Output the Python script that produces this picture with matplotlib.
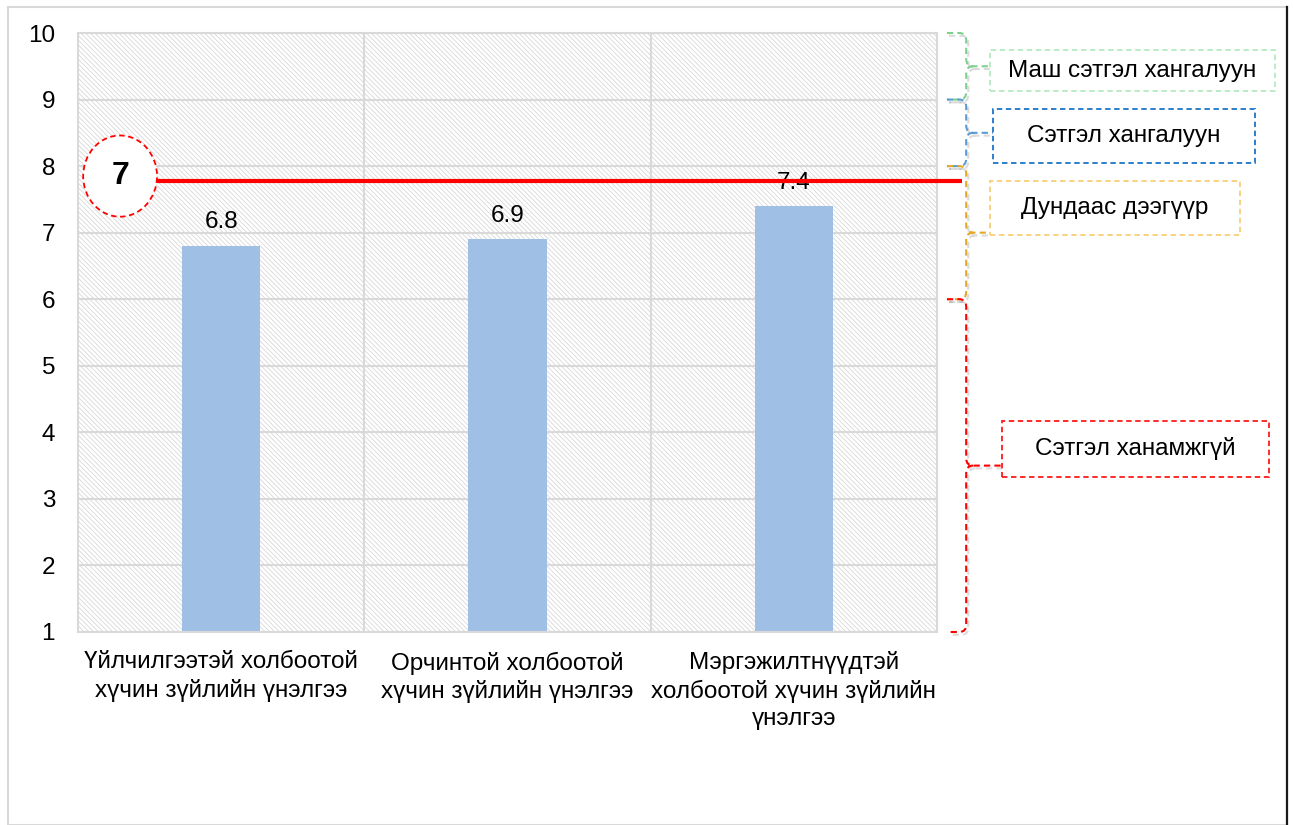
import matplotlib
matplotlib.use("Agg")
import matplotlib.pyplot as plt
import matplotlib.patheffects as pe
from matplotlib.patches import Rectangle, Ellipse, PathPatch
from matplotlib.path import Path
from matplotlib.lines import Line2D
from matplotlib.transforms import blended_transform_factory

plt.rcParams['font.family'] = ['Liberation Sans', 'DejaVu Sans']
plt.rcParams['hatch.linewidth'] = 0.6

categories = ['Үйлчилгээтэй холбоотой\nхүчин зүйлийн үнэлгээ',
              'Орчинтой холбоотой\nхүчин зүйлийн үнэлгээ',
              'Мэргэжилтнүүдтэй\nхолбоотой хүчин зүйлийн\nүнэлгээ']
scores = [6.8, 6.9, 7.4]
target = 7.77
target_label = '7'

# satisfaction bands: label, lower bound, upper bound
band_names = ['Маш сэтгэл хангалуун', 'Сэтгэл хангалуун',
              'Дундаас дээгүүр', 'Сэтгэл ханамжгүй']
band_lo = [9, 8, 6, 1]
band_hi = [10, 9, 8, 6]
band_brace = ['#7ED08E', '#5B9BD5', '#E3A92A', '#FF0000']
band_box = ['#B5EAC2', '#1C74C8', '#F8CF7A', '#FF1A1A']

FS = 17.5
W, H = 1293, 825
fig = plt.figure(figsize=(W / 100, H / 100), dpi=100)


def px(x, y):
    return x / W, 1 - y / H


ax = fig.add_axes([78 / W, (H - 632) / H, (937 - 78) / W, (632 - 33) / H])
ax.set_xlim(-0.5, 2.5)
ax.set_ylim(1, 10)

# hatched plot background
bg = Rectangle((0, 0), 1, 1, transform=ax.transAxes, facecolor='white',
               edgecolor='#D8D8D8', linewidth=0, hatch='\\' * 7, zorder=0)
ax.add_patch(bg)

ax.set_yticks(range(1, 11))
ax.set_xticks(range(len(categories)))
ax.set_xticklabels(categories, fontsize=FS, linespacing=1.3)
ax.tick_params(axis='y', labelsize=FS, length=0, pad=16.5)
ax.tick_params(axis='x', length=0, pad=14)
ax.yaxis.grid(True, color='#D9D9D9', linewidth=1.5, zorder=1)
for xb in [0.5, 1.5]:
    ax.axvline(xb, color='#D9D9D9', linewidth=1.5, zorder=1)
for s in ax.spines.values():
    s.set_color('#D9D9D9')
    s.set_linewidth(1.5)
ax.set_axisbelow(True)

bars = ax.bar(range(len(scores)), scores, width=0.273, bottom=0,
              color='#9FBFE5', zorder=2)
for i, v in enumerate(scores):
    ax.annotate(f'{v}', (i, v), xytext=(0, 9), textcoords='offset points',
                ha='center', va='bottom', fontsize=FS, zorder=3)

bt = blended_transform_factory(ax.transAxes, ax.transData)

# threshold line with marker circle
ax.plot([0.092, 1.029], [target, target], transform=bt, color='red',
        linewidth=3, solid_capstyle='butt', clip_on=False, zorder=4)
circ = Ellipse((0.049, target + 0.08), 0.086, 1.22, transform=bt,
               facecolor='white', edgecolor='red', linestyle=(0, (3, 2)),
               linewidth=1.3, zorder=5, clip_on=False)
ax.add_patch(circ)
ax.text(0.049, target + 0.08, target_label, transform=bt, ha='center',
        va='center', fontsize=23, fontweight='bold', zorder=6)


def brace(lo, hi, x_tip, color):
    x0, x1 = 1.0116, 1.034
    dx, dy = 0.008, 0.11
    mid = (lo + hi) / 2
    verts = [(x0, hi), (x1 - dx, hi), (x1, hi), (x1, hi - dy),
             (x1, mid + dy), (x1, mid), (x1 + dx, mid), (x_tip, mid),
             (x1 + dx, mid), (x1, mid), (x1, mid - dy),
             (x1, lo + dy), (x1, lo), (x1 - dx, lo), (x0, lo)]
    codes = [Path.MOVETO, Path.LINETO, Path.CURVE3, Path.CURVE3,
             Path.LINETO, Path.CURVE3, Path.CURVE3, Path.LINETO,
             Path.MOVETO, Path.CURVE3, Path.CURVE3,
             Path.LINETO, Path.CURVE3, Path.CURVE3, Path.LINETO]
    p = PathPatch(Path(verts, codes), transform=bt, fill=False,
                  edgecolor=color, linewidth=1.5, linestyle=(0, (3, 2)),
                  clip_on=False, zorder=5,
                  path_effects=[pe.SimpleLineShadow(offset=(1.5, -2),
                                                    shadow_color='#888888',
                                                    alpha=0.3),
                                pe.Normal()])
    ax.add_patch(p)


# label boxes (pixel layout)
boxes = [(990, 50, 1275, 91), (993, 109, 1255, 163),
         (990, 181, 1240, 235), (1002, 421, 1269, 477)]
for name, lo, hi, bc, xc, (l, t, r, b) in zip(band_names, band_lo, band_hi,
                                              band_brace, band_box, boxes):
    brace(lo, hi, (l - 78) / (937 - 78), bc)
    x0, y0 = px(l, b)
    x1, y1 = px(r, t)
    fig.patches.append(Rectangle((x0, y0), x1 - x0, y1 - y0,
                                 transform=fig.transFigure, facecolor='white',
                                 edgecolor=xc, linewidth=1.3,
                                 linestyle=(0, (3, 2)), zorder=3))
    cx, cy = px((l + r) / 2, (t + b) / 2)
    fig.text(cx, cy, name, ha='center', va='center', fontsize=FS, zorder=4)

# chart frame
fx, fy = px(8, 825)
fig.patches.append(Rectangle((fx, fy), (1287 - 8) / W, (825 - 7) / H,
                             transform=fig.transFigure, facecolor='none',
                             edgecolor='#D9D9D9', linewidth=1.5, zorder=0))
fig.lines.append(Line2D([1287 / W, 1287 / W], [0, 1 - 7 / H],
                        transform=fig.transFigure, color='#1A1A1A',
                        linewidth=1.6))

fig.savefig('out.png', dpi=100, facecolor='white')
